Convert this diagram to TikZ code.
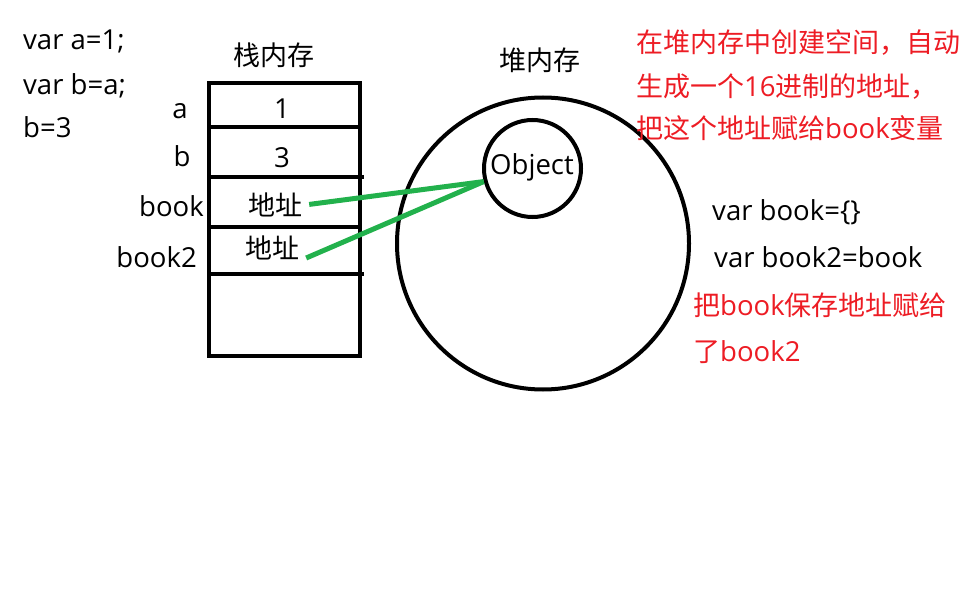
\documentclass[tikz,border=0pt]{standalone}
\usepackage{fontspec}
\setmainfont[Scale=1.02]{Open Sans}
\newfontfamily\cjk{Noto Sans CJK SC}
\usepackage{tikz}
\usetikzlibrary{shapes}
\definecolor{pgreen}{RGB}{34,177,76}
\definecolor{pred}{RGB}{237,28,36}
\tikzstyle{txt}=[inner sep=0pt,anchor=base,font=\fontsize{27}{32}\selectfont]
\tikzstyle{code}=[txt,anchor=base west]
\tikzstyle{note}=[code,text=pred]
\tikzstyle{cell}=[txt,inner xsep=7pt]
\tikzstyle{mem}=[draw,line width=4pt]
\tikzstyle{heap}=[draw,circle,line width=4pt,inner sep=0pt]
\tikzstyle{ptr}=[draw,line width=5pt,pgreen]

\begin{document}
\begin{tikzpicture}[x=1pt,y=-1pt]
\useasboundingbox (0,0) rectangle (974,604);

	% code on the left
	\node[code] (c1) at (23,50) {var a=1;};
	\node[code] (c2) at (23,95) {var b=a;};
	\node[code] (c3) at (23,138) {b=3};

	% stack
	\node[txt] (st) at (274,66) {\cjk 栈内存};
	\path[mem] (209,83) rectangle (360,356);
	\path[mem] (209,127) -- (360,127);
	\path[mem] (209,177) -- (364,177);
	\path[mem] (209,227) -- (360,227);
	\path[mem] (209,274) -- (364,274);

	\node[txt] (la) at (180,119) {a};
	\node[txt] (lb) at (182,167) {b};
	\node[txt,anchor=base east] (lbook) at (204,217) {book};
	\node[txt,anchor=base east] (lbook2) at (197,267) {book2};

	\node[txt] (va) at (282,119) {1};
	\node[txt] (vb) at (282,168) {3};
	\node[cell] (ad1) at (275,215) {\cjk 地址};
	\node[cell] (ad2) at (272,258) {\cjk 地址};

	% heap
	\node[txt] (hp) at (540,71) {\cjk 堆内存};
	\node[heap,minimum size=292pt] (big) at (543,243.5) {};
	\node[heap,minimum size=97pt] (obj) at (532.5,168.5) {};
	\node[txt] (objt) at (532,175) {Object};

	\path[ptr] (ad1.east) -- (obj.195);
	\path[ptr] (ad2.base east) -- (obj.195);

	% notes
	\node[note] (n1) at (636,53) {\cjk 在堆内存中创建空间，自动};
	\node[note] (n2) at (636,97) {{\cjk 生成一个}16{\cjk 进制的地址，}};
	\node[note] (n3) at (636,139) {{\cjk 把这个地址赋给}book{\cjk 变量}};

	\node[code] (c4) at (712,220) {var book=\{\}};
	\node[code] (c5) at (714,267) {var book2=book};

	\node[note] (n4) at (693,315) {{\cjk 把}book{\cjk 保存地址赋给}};
	\node[note] (n5) at (693,361) {{\cjk 了}book2};
\end{tikzpicture}
\end{document}
